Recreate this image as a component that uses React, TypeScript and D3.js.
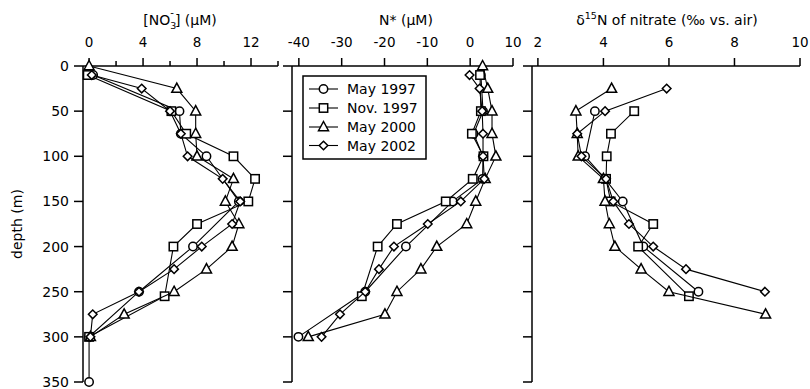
import React from "react";
import * as d3 from "d3";

// ---------- data ----------
const seriesNames = ["May 1997", "Nov. 1997", "May 2000", "May 2002"];
const seriesShapes = ["circle", "square", "triangle", "diamond"];

// Panel 1: nitrate (µM)
const no3DepthMay97 = [10, 50, 75, 100, 150, 200, 250, 300, 350];
const no3May97 = [0.3, 6.7, 6.8, 8.7, 11.1, 7.7, 3.7, 0, 0];
const no3DepthNov97 = [10, 50, 75, 100, 125, 150, 175, 200, 255, 300];
const no3Nov97 = [-0.1, 6.1, 7.2, 10.7, 12.3, 11.8, 8.0, 6.25, 5.6, 0.0];
const no3DepthMay00 = [0, 25, 50, 75, 100, 125, 150, 175, 200, 225, 250, 275, 300];
const no3May00 = [0, 6.5, 7.9, 7.9, 8.0, 10.7, 10.1, 11.1, 10.6, 8.7, 6.3, 2.6, 0.1];
const no3DepthMay02 = [10, 25, 50, 75, 100, 125, 150, 175, 200, 225, 250, 275, 300];
const no3May02 = [0.2, 3.9, 6.0, 6.8, 7.3, 9.9, 11.2, 10.6, 8.35, 6.3, 3.7, 0.27, 0.1];

// Panel 2: N* (µM)
const nstarDepthMay97 = [10, 50, 75, 100, 125, 150, 200, 250, 300];
const nstarMay97 = [2.5, 3.0, 0.8, 3.0, 2.9, -4.1, -15.0, -24.5, -40.1];
const nstarDepthNov97 = [10, 50, 75, 100, 125, 150, 175, 200, 255];
const nstarNov97 = [2.3, 2.5, 0.4, 3.1, 0.6, -5.7, -17.1, -21.6, -25.3];
const nstarDepthMay00 = [0, 25, 50, 75, 100, 125, 150, 175, 200, 225, 250, 275, 300];
const nstarMay00 = [2.9, 4.1, 5.1, 5.1, 6.0, 3.5, 1.3, -0.8, -7.8, -11.5, -17.1, -19.9, -37.8];
const nstarDepthMay02 = [10, 25, 50, 75, 100, 125, 150, 175, 200, 225, 250, 275, 300];
const nstarMay02 = [-0.15, 2.2, 2.8, 3.0, 3.0, 3.3, -2.2, -9.9, -17.8, -21.3, -24.5, -30.4, -34.7];

// Panel 3: δ15N of nitrate (‰ vs. air)
const d15DepthMay97 = [50, 100, 125, 150, 200, 250];
const d15May97 = [3.74, 3.44, 4.05, 4.59, 5.22, 6.9];
const d15DepthNov97 = [50, 75, 100, 125, 150, 175, 200, 255];
const d15Nov97 = [4.94, 4.23, 4.1, 4.08, 4.22, 5.52, 5.06, 6.61];
const d15DepthMay00 = [25, 50, 75, 100, 125, 150, 175, 200, 225, 250, 275];
const d15May00 = [4.25, 3.16, 3.2, 3.23, 4.0, 4.05, 4.18, 4.35, 5.15, 6.0, 8.95];
const d15DepthMay02 = [25, 50, 75, 100, 125, 150, 175, 200, 225, 250];
const d15May02 = [5.93, 4.05, 3.2, 3.33, 4.08, 4.3, 4.78, 5.52, 6.52, 8.93];

const depthTicks = [0, 50, 100, 150, 200, 250, 300, 350];
const no3Ticks = [0, 4, 8, 12];
const no3MinorTicks = [2, 6, 10, 14];
const nstarTicks = [-40, -30, -20, -10, 0, 10];
const d15Ticks = [2, 4, 6, 8, 10];

// ---------- layout ----------
const W = 810;
const H = 389;
const FONT = "DejaVu Sans, sans-serif";

const y = d3.scaleLinear().domain([0, 350]).range([66, 382]);
const xNo3 = d3.scaleLinear().domain([-0.45, 14]).range([83, 278]);
const xNstar = d3.scaleLinear().domain([-41.6, 10]).range([292, 513]);
const xD15 = d3.scaleLinear().domain([1.82, 10]).range([532, 800]);

function Marker({ shape, cx, cy }: { shape: string; cx: number; cy: number }) {
  const sw = 1.5;
  if (shape === "circle")
    return <circle cx={cx} cy={cy} r={4.2} fill="white" stroke="black" strokeWidth={sw} />;
  if (shape === "square")
    return <rect x={cx - 4.2} y={cy - 4.2} width={8.4} height={8.4} fill="white" stroke="black" strokeWidth={sw} />;
  if (shape === "triangle") {
    const s = 5;
    return (
      <path
        d={`M${cx},${cy - s - 0.5}L${cx + s},${cy + s * 0.75}L${cx - s},${cy + s * 0.75}Z`}
        fill="white"
        stroke="black"
        strokeWidth={sw}
      />
    );
  }
  const s = 4.3;
  return (
    <path d={`M${cx},${cy - s}L${cx + s},${cy}L${cx},${cy + s}L${cx - s},${cy}Z`} fill="white" stroke="black" strokeWidth={sw} />
  );
}

function Series({ depths, values, x, shape }: { depths: number[]; values: number[]; x: any; shape: string }) {
  const pts: [number, number][] = depths.map((d, i) => [x(values[i]), y(d)]);
  const line = d3.line();
  return (
    <g>
      <path d={line(pts) || ""} fill="none" stroke="black" strokeWidth={1.1} />
      {pts.map((p, i) => (
        <Marker key={i} shape={shape} cx={p[0]} cy={p[1]} />
      ))}
    </g>
  );
}

function Panel({
  x,
  ticks,
  minor,
  showYLabels,
  data,
}: {
  x: any;
  ticks: number[];
  minor: number[];
  showYLabels: boolean;
  data: { depths: number[]; values: number[] }[];
}) {
  const [x0, x1] = x.range();
  return (
    <g>
      {/* top axis */}
      <line x1={x0} x2={x1} y1={y(0)} y2={y(0)} stroke="black" strokeWidth={1.5} />
      {ticks.map((t) => (
        <g key={"t" + t}>
          <line x1={x(t)} x2={x(t)} y1={y(0)} y2={y(0) - 8} stroke="black" strokeWidth={1.5} />
          <text x={x(t)} y={47} textAnchor="middle" fontSize={13.5} fontFamily={FONT}>
            {t < 0 ? "-" + Math.abs(t) : String(t)}
          </text>
        </g>
      ))}
      {minor.map((t) => (
        <line key={"m" + t} x1={x(t)} x2={x(t)} y1={y(0)} y2={y(0) - 5} stroke="black" strokeWidth={1.5} />
      ))}
      {/* left axis */}
      <line x1={x0} x2={x0} y1={y(0)} y2={y(350)} stroke="black" strokeWidth={1.5} />
      {depthTicks.map((d) => (
        <g key={"d" + d}>
          <line x1={x0 - 9} x2={x0} y1={y(d)} y2={y(d)} stroke="black" strokeWidth={1.5} />
          {showYLabels && (
            <text x={x0 - 14} y={y(d)} dy="0.36em" textAnchor="end" fontSize={14} fontFamily={FONT}>
              {d}
            </text>
          )}
        </g>
      ))}
      {data.map((s, i) => (
        <Series key={i} depths={s.depths} values={s.values} x={x} shape={seriesShapes[i]} />
      ))}
    </g>
  );
}

export default function App() {
  const legendX = 303;
  const legendY = 76;
  const rowY = [89, 108, 127, 145.5];
  return (
    <svg width={W} height={H} style={{ display: "block", position: "absolute", left: 0, top: 0 }}>
      <rect width={W} height={H} fill="white" />
      <Panel
        x={xNo3}
        ticks={no3Ticks}
        minor={no3MinorTicks}
        showYLabels={true}
        data={[
          { depths: no3DepthMay97, values: no3May97 },
          { depths: no3DepthNov97, values: no3Nov97 },
          { depths: no3DepthMay00, values: no3May00 },
          { depths: no3DepthMay02, values: no3May02 },
        ]}
      />
      <Panel
        x={xNstar}
        ticks={nstarTicks}
        minor={[]}
        showYLabels={false}
        data={[
          { depths: nstarDepthMay97, values: nstarMay97 },
          { depths: nstarDepthNov97, values: nstarNov97 },
          { depths: nstarDepthMay00, values: nstarMay00 },
          { depths: nstarDepthMay02, values: nstarMay02 },
        ]}
      />
      <Panel
        x={xD15}
        ticks={d15Ticks}
        minor={[]}
        showYLabels={false}
        data={[
          { depths: d15DepthMay97, values: d15May97 },
          { depths: d15DepthNov97, values: d15Nov97 },
          { depths: d15DepthMay00, values: d15May00 },
          { depths: d15DepthMay02, values: d15May02 },
        ]}
      />

      {/* titles */}
      <text x={180} y={24.5} textAnchor="middle" fontSize={14} fontFamily={FONT}>
        <tspan>[NO</tspan>
        <tspan fontSize={9.5} dy={4}>3</tspan>
        <tspan fontSize={10} dx={-6} dy={-13}>-</tspan>
        <tspan dy={9} dx={1}>] (μM)</tspan>
      </text>
      <text x={406} y={24.5} textAnchor="middle" fontSize={14} fontFamily={FONT}>
        N* (μM)
      </text>
      <text x={667} y={24.5} textAnchor="middle" fontSize={14} fontFamily={FONT}>
        <tspan>δ</tspan>
        <tspan fontSize={9.5} dy={-6}>15</tspan>
        <tspan dy={6}>N of nitrate (‰ vs. air)</tspan>
      </text>
      <text
        transform={`translate(22,${y(175)}) rotate(-90)`}
        textAnchor="middle"
        fontSize={14}
        fontFamily={FONT}
      >
        depth (m)
      </text>

      {/* legend */}
      <rect x={legendX} y={legendY} width={123} height={83} fill="white" stroke="black" strokeWidth={1.5} />
      {seriesNames.map((name, i) => (
        <g key={name}>
          <line x1={309} x2={338} y1={rowY[i]} y2={rowY[i]} stroke="black" strokeWidth={1.1} />
          <Marker shape={seriesShapes[i]} cx={323.5} cy={rowY[i]} />
          <text x={347} y={rowY[i]} dy="0.36em" fontSize={14} fontFamily={FONT}>
            {name}
          </text>
        </g>
      ))}
    </svg>
  );
}
